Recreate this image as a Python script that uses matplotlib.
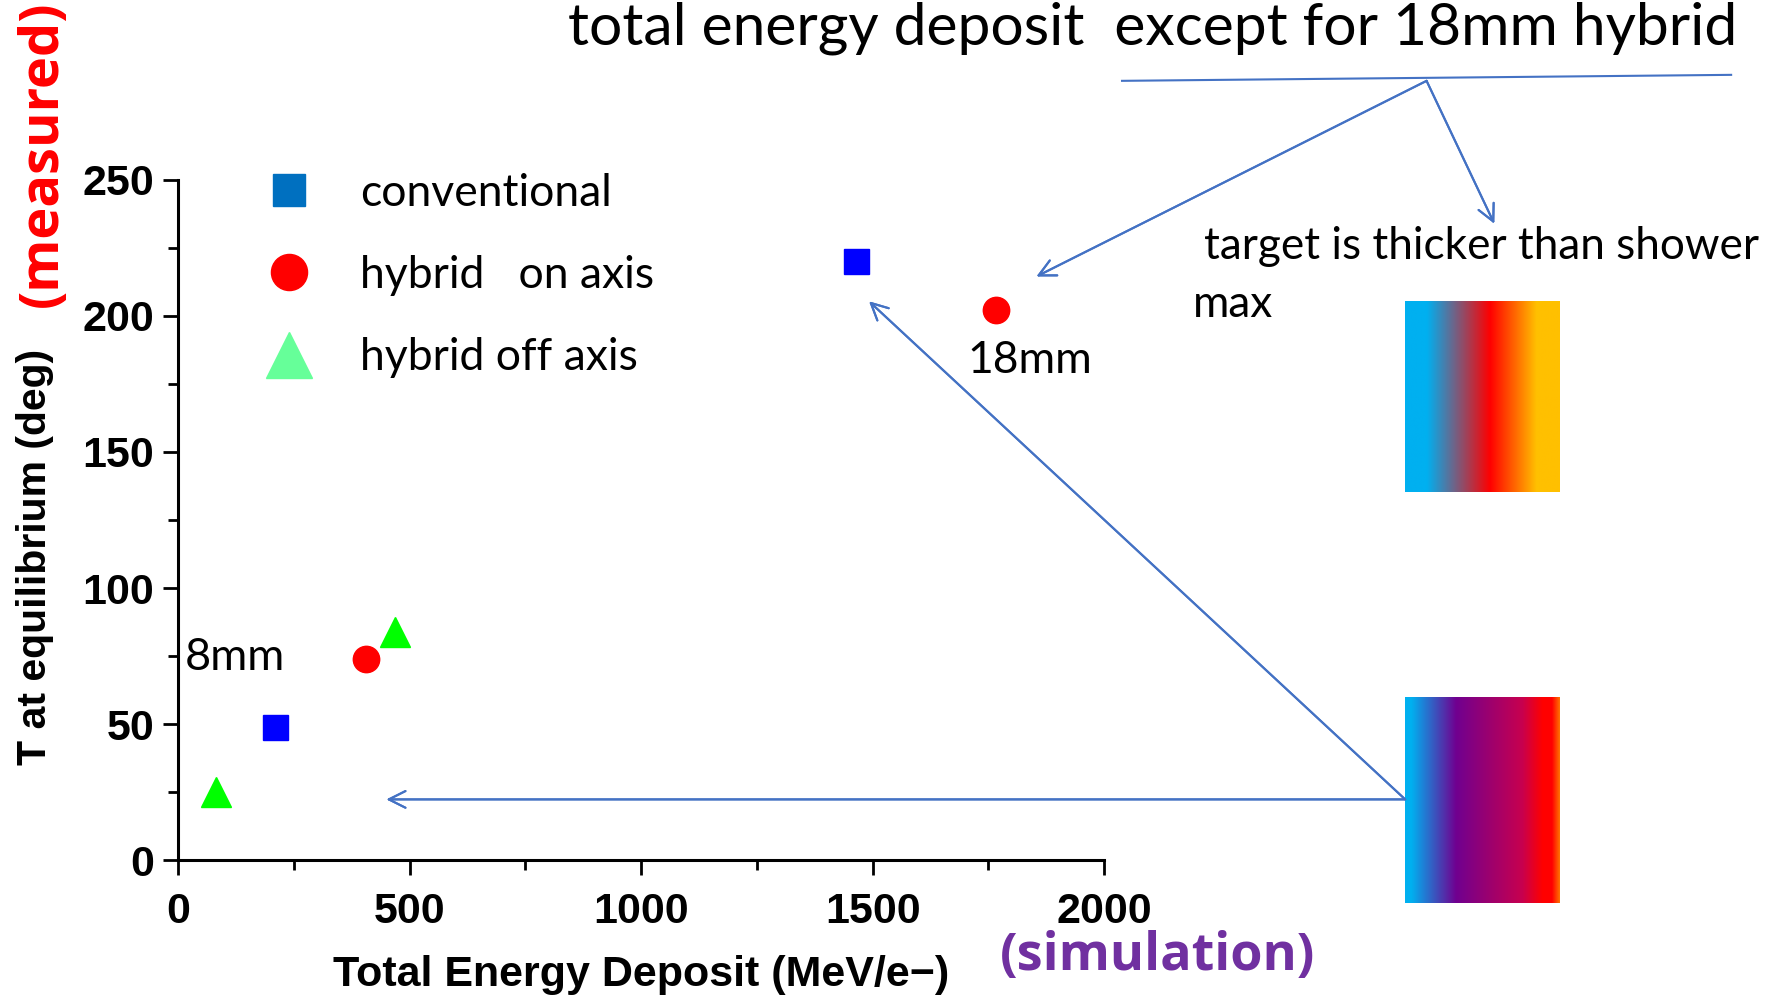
import numpy as np
import matplotlib
matplotlib.use('Agg')
import matplotlib.pyplot as plt
from matplotlib.lines import Line2D
from matplotlib.colors import LinearSegmentedColormap

# data
conv_x = [210, 1465]
conv_y = [49, 220]
on_x = [405, 1767]
on_y = [74, 202]
off_x = [81, 469]
off_y = [25, 84]

labels = ['conventional', 'hybrid   on axis', 'hybrid off axis']
x_ticks = [0, 500, 1000, 1500, 2000]
y_ticks = [0, 50, 100, 150, 200, 250]

ARIAL = ['Liberation Sans', 'DejaVu Sans']
TXT = ['Lato', 'DejaVu Sans']
BOLD = ['Open Sans', 'DejaVu Sans']
ARROW = '#4472C4'

fig = plt.figure(figsize=(17.81, 9.98), dpi=100)
ax = fig.add_axes([0.100, 0.138, 0.520, 0.682])

ax.plot(conv_x, conv_y, 's', color='#0000FF', markersize=18, linestyle='none')
ax.plot(on_x, on_y, 'o', color='#FF0000', markersize=19, linestyle='none')
ax.plot(off_x, off_y, '^', color='#00FF00', markersize=22, linestyle='none')

ax.set_xlim(0, 2000)
ax.set_ylim(0, 250)
ax.set_xticks(x_ticks)
ax.set_yticks(y_ticks)
ax.set_xticks(np.arange(250, 2000, 500), minor=True)
ax.set_yticks(np.arange(25, 250, 50), minor=True)
for s in ['top', 'right']:
    ax.spines[s].set_visible(False)
for s in ['left', 'bottom']:
    ax.spines[s].set_linewidth(2.2)
ax.tick_params(which='major', direction='out', length=11, width=2)
ax.tick_params(which='minor', direction='out', length=7, width=2)
ax.tick_params(axis='x', which='major', pad=12)
ax.tick_params(axis='y', which='major', pad=6)
for lab in ax.get_xticklabels() + ax.get_yticklabels():
    lab.set_family(ARIAL)
    lab.set_fontweight('bold')
    lab.set_fontsize(31)

ax.set_xlabel('Total Energy Deposit (MeV/e\u2212)', family=ARIAL, fontweight='bold',
              fontsize=31, va='center')
ax.xaxis.set_label_coords(0.5, -0.169)
ax.set_ylabel('T at equilibrium (deg)', family=ARIAL, fontweight='bold',
              fontsize=29.5, va='center')
ax.yaxis.set_label_coords(-0.155, 0.446)

handles = [
    Line2D([], [], marker='s', color='#0070C0', linestyle='none', markersize=23),
    Line2D([], [], marker='o', color='#FF0000', linestyle='none', markersize=26),
    Line2D([], [], marker='^', color='#66FF99', linestyle='none', markersize=33),
]
leg = fig.legend(handles, labels, loc='upper left', bbox_to_anchor=(0.145, 0.827),
                 frameon=False, prop={'family': TXT, 'size': 32},
                 handlelength=1.4, handletextpad=0.9, labelspacing=0.93,
                 borderpad=0, borderaxespad=0)

fig.text(0.024, 0.846, '(measured)', color='#FF0000', rotation=90, family=BOLD,
         fontweight='bold', fontsize=39, ha='center', va='center')
fig.text(0.650, 0.042, '(simulation)', color='#7030A0', family=BOLD,
         fontweight='bold', fontsize=37.5, ha='center', va='center')
fig.text(0.319, 0.972, 'total energy deposit  except for 18mm hybrid', family=TXT,
         fontsize=42.3, ha='left', va='center')
fig.text(0.676, 0.753, 'target is thicker than shower', family=TXT, fontsize=31.8,
         ha='left', va='center')
fig.text(0.670, 0.695, 'max', family=TXT, fontsize=31.8, ha='left', va='center')
fig.text(0.543, 0.639, '18mm', family=TXT, fontsize=32, ha='left', va='center')
fig.text(0.104, 0.341, '8mm', family=TXT, fontsize=32.5, ha='left', va='center')

# annotation lines and arrows
fig.add_artist(Line2D([0.630, 0.972], [0.919, 0.925], color=ARROW, lw=1.5,
                      transform=fig.transFigure))
arrow = dict(arrowstyle='->', color=ARROW, lw=1.5, mutation_scale=30, shrinkA=0, shrinkB=0)
for end in [(0.582, 0.723), (0.839, 0.776)]:
    fig.add_artist(plt.annotate('', xy=end, xytext=(0.801, 0.919),
                                xycoords='figure fraction', arrowprops=arrow))
for end in [(0.217, 0.199), (0.488, 0.698)]:
    fig.add_artist(plt.annotate('', xy=end, xytext=(0.789, 0.199),
                                xycoords='figure fraction', arrowprops=arrow))

# gradient boxes
grad = np.linspace(0, 1, 512).reshape(1, -1)
cmap1 = LinearSegmentedColormap.from_list('g1', [
    (0.0, '#00B0F0'), (0.14, '#00B0F0'), (0.55, '#FF0000'),
    (0.85, '#FFC000'), (1.0, '#FFC000')])
cmap2 = LinearSegmentedColormap.from_list('g2', [
    (0.0, '#00B0F0'), (0.04, '#00B0F0'), (0.33, '#700090'), (0.76, '#C8004E'),
    (0.89, '#FF0000'), (0.95, '#FF0000'), (1.0, '#FF7000')])
for rect, cm in [([0.789, 0.507, 0.087, 0.191], cmap1),
                 ([0.789, 0.095, 0.087, 0.207], cmap2)]:
    gax = fig.add_axes(rect)
    gax.imshow(grad, aspect='auto', cmap=cm)
    gax.set_axis_off()

fig.savefig('out.png', dpi=100)
